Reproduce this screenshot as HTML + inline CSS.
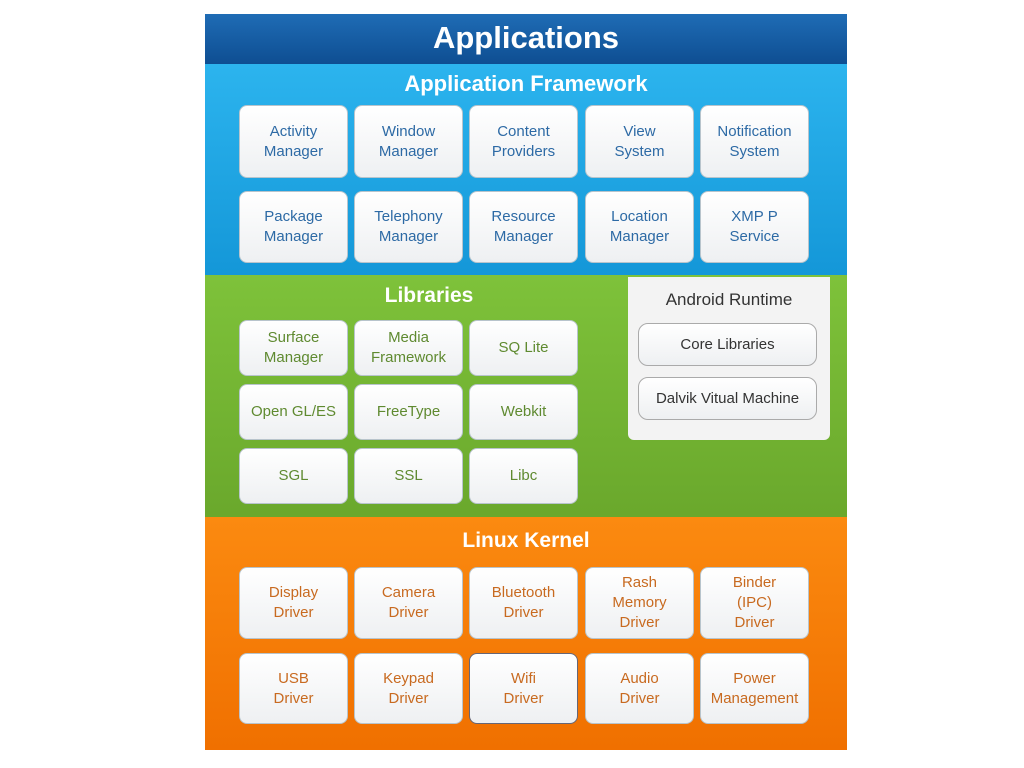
<!DOCTYPE html>
<html><head><style>
body{margin:0;width:1024px;height:768px;background:#fff;position:relative;font-family:"Liberation Sans",sans-serif;overflow:hidden}
.band{position:absolute;left:205px;width:642px}
.t{position:absolute;width:100%;text-align:center;color:#fff;font-weight:bold}
.b{position:absolute;width:107px;border:1px solid #b8c4cc;border-radius:8px;background:linear-gradient(#fff,#eef0f2);display:flex;align-items:center;justify-content:center;text-align:center;font-size:15px;line-height:20px;box-sizing:border-box;width:109px}
.bl{color:#2d6aa5}.gr{color:#5f8a30}.or{color:#c86a20}
</style></head><body>
<div class="band" style="top:14px;height:50px;background:linear-gradient(#1f6cb5,#0e4e92)"><div class="t" style="top:6px;font-size:31px">Applications</div></div>
<div class="band" style="top:64px;height:211px;background:linear-gradient(#2cb4ee,#1497d8)"><div class="t" style="top:7px;font-size:22px">Application Framework</div></div>
<div class="band" style="top:275px;height:242px;background:linear-gradient(#7ec23a,#6aa82c)"><div class="t" style="top:9px;font-size:21px;left:-97px">Libraries</div></div>
<div class="band" style="top:517px;height:233px;background:linear-gradient(#fb8a10,#f07000)"><div class="t" style="top:12px;font-size:21px">Linux Kernel</div></div>

<div class="b bl" style="left:239px;top:105px;height:73px">Activity<br>Manager</div>
<div class="b bl" style="left:354px;top:105px;height:73px">Window<br>Manager</div>
<div class="b bl" style="left:469px;top:105px;height:73px">Content<br>Providers</div>
<div class="b bl" style="left:585px;top:105px;height:73px">View<br>System</div>
<div class="b bl" style="left:700px;top:105px;height:73px">Notification<br>System</div>
<div class="b bl" style="left:239px;top:191px;height:72px">Package<br>Manager</div>
<div class="b bl" style="left:354px;top:191px;height:72px">Telephony<br>Manager</div>
<div class="b bl" style="left:469px;top:191px;height:72px">Resource<br>Manager</div>
<div class="b bl" style="left:585px;top:191px;height:72px">Location<br>Manager</div>
<div class="b bl" style="left:700px;top:191px;height:72px">XMP P<br>Service</div>

<div class="b gr" style="left:239px;top:320px;height:56px">Surface<br>Manager</div>
<div class="b gr" style="left:354px;top:320px;height:56px">Media<br>Framework</div>
<div class="b gr" style="left:469px;top:320px;height:56px">SQ Lite</div>
<div class="b gr" style="left:239px;top:384px;height:56px">Open GL/ES</div>
<div class="b gr" style="left:354px;top:384px;height:56px">FreeType</div>
<div class="b gr" style="left:469px;top:384px;height:56px">Webkit</div>
<div class="b gr" style="left:239px;top:448px;height:56px">SGL</div>
<div class="b gr" style="left:354px;top:448px;height:56px">SSL</div>
<div class="b gr" style="left:469px;top:448px;height:56px">Libc</div>

<div style="position:absolute;left:628px;top:277px;width:202px;height:163px;background:#f3f3f3;border-radius:0 0 6px 6px"></div>
<div style="position:absolute;left:628px;top:290px;width:202px;text-align:center;font-size:17px;color:#333">Android Runtime</div>
<div class="b" style="left:638px;top:323px;width:179px;height:43px;color:#333;border-color:#aaa;border-radius:10px">Core Libraries</div>
<div class="b" style="left:638px;top:377px;width:179px;height:43px;color:#333;border-color:#aaa;border-radius:10px">Dalvik Vitual Machine</div>

<div class="b or" style="left:239px;top:567px;height:72px">Display<br>Driver</div>
<div class="b or" style="left:354px;top:567px;height:72px">Camera<br>Driver</div>
<div class="b or" style="left:469px;top:567px;height:72px">Bluetooth<br>Driver</div>
<div class="b or" style="left:585px;top:567px;height:72px">Rash<br>Memory<br>Driver</div>
<div class="b or" style="left:700px;top:567px;height:72px">Binder<br>(IPC)<br>Driver</div>
<div class="b or" style="left:239px;top:653px;height:71px">USB<br>Driver</div>
<div class="b or" style="left:354px;top:653px;height:71px">Keypad<br>Driver</div>
<div class="b or" style="left:469px;top:653px;height:71px;border-color:#667">Wifi<br>Driver</div>
<div class="b or" style="left:585px;top:653px;height:71px">Audio<br>Driver</div>
<div class="b or" style="left:700px;top:653px;height:71px">Power<br>Management</div>
</body></html>
